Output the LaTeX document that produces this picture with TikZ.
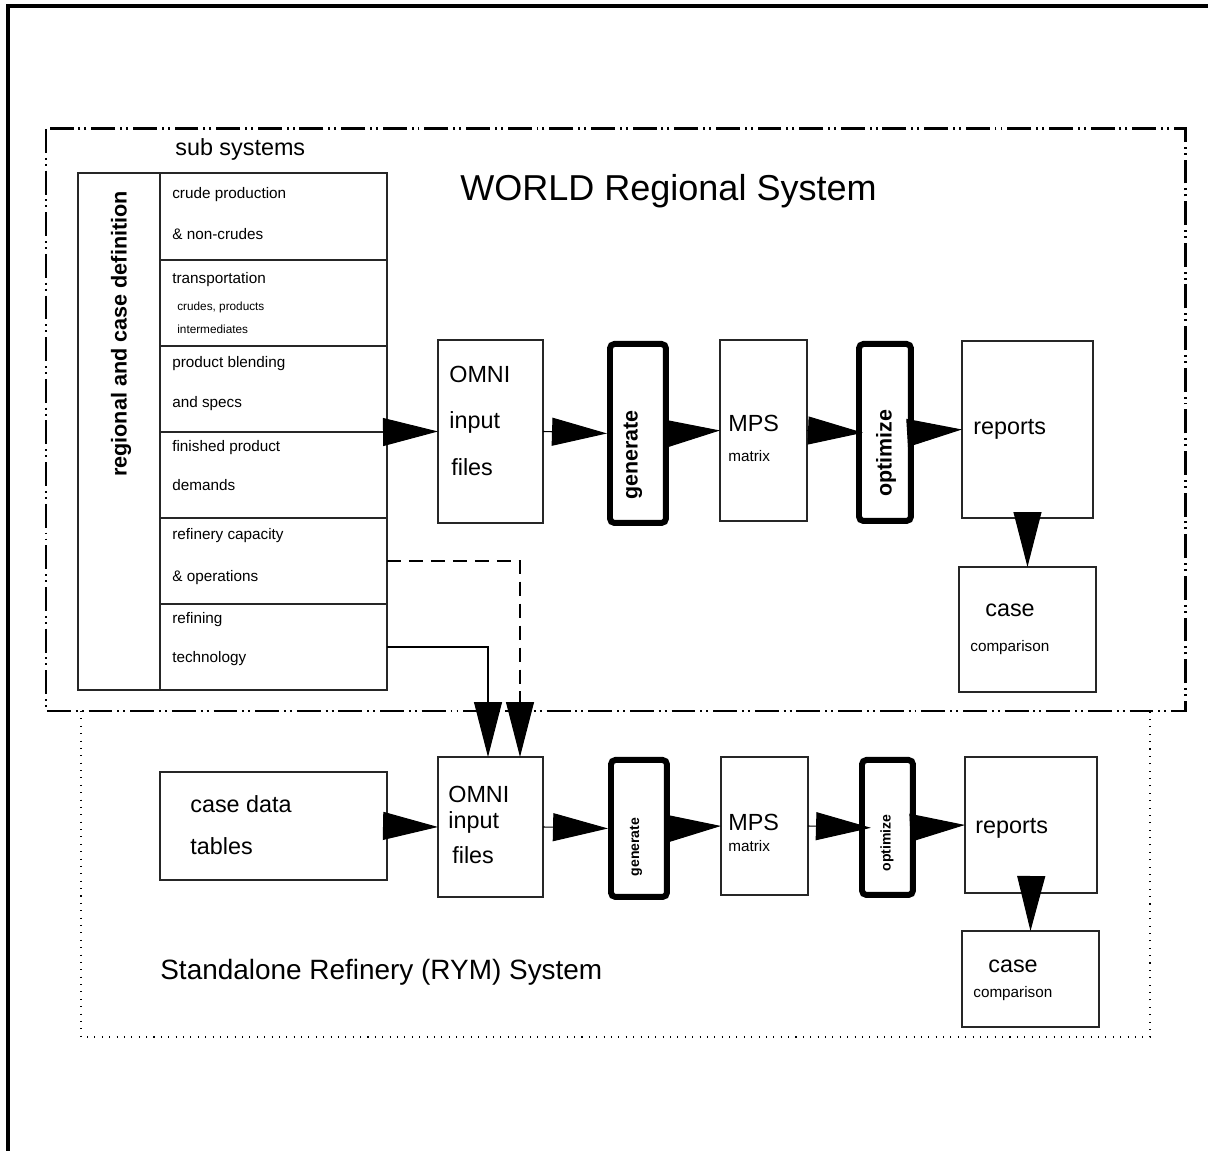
\documentclass[tikz,border=0pt]{standalone}
\usepackage{fontspec}
\setmainfont{Liberation Sans}
\usetikzlibrary{arrows.meta}

% font sizes
\newcommand\worldfs{\fontsize{20.5}{24}\selectfont}
\newcommand\rymfs{\fontsize{15.9}{19}\selectfont}
\newcommand\mainfs{\fontsize{13.3}{16}\selectfont}
\newcommand\regfs{\fontsize{12.3}{15}\selectfont}
\newcommand\procfs{\fontsize{12.2}{15}\selectfont}
\newcommand\subfs{\fontsize{8.7}{10}\selectfont}
\newcommand\smallprocfs{\fontsize{8}{10}\selectfont}
\newcommand\tinyfs{\fontsize{6.7}{8}\selectfont}

\begin{document}
\begin{tikzpicture}[x=0.02cm, y=-0.02cm,
    box/.style={draw=black!85, line width=0.7pt, inner sep=0pt, outer sep=0pt, anchor=north west},
    procbox/.style={draw, line width=3.4pt, rounded corners=2.5pt, inner sep=0pt, anchor=north west},
    txt/.style={inner sep=0pt, anchor=base west},
    bigarrow/.style={-{Triangle[length=1.1cm, width=0.56cm]}, line width=0.6pt},
    worldline/.style={line width=1.7pt, dash pattern=on 13.6pt off 2.8pt on 1.1pt off 2.3pt on 1.1pt off 2.8pt},
    rymline/.style={line width=0.6pt, dash pattern=on 0.6pt off 3.6pt}]
    \useasboundingbox (0,0) rectangle (1208,1151);

    % page frame
    \draw[line width=2pt] (8,1151) -- (8,6) -- (1208,6);

    % system borders
    \draw[rymline] (81,711) -- (81,1037) -- (1150,1037) -- (1150,711);
    \draw[worldline] (46,129) rectangle (1185,711);
    \node[txt, font=\worldfs] (world) at (460,201) {WORLD Regional System};
    \node[txt, font=\rymfs] (rym) at (160,980) {Standalone Refinery (RYM) System};

    % sub systems
    \node[txt, font=\mainfs] (subsys) at (175,156) {sub systems};
    \node[box, minimum width=1.64cm, minimum height=10.34cm] (regdef) at (78,173) {};
    \node[rotate=90, font=\regfs\bfseries] (regtxt) at (121,334) {regional and case definition};
    \node[box, minimum width=4.54cm, minimum height=1.74cm] (crude) at (160,173) {};
    \node[box, minimum width=4.54cm, minimum height=1.72cm] (transp) at (160,260) {};
    \node[box, minimum width=4.54cm, minimum height=1.72cm] (blend) at (160,346) {};
    \node[box, minimum width=4.54cm, minimum height=1.72cm] (demand) at (160,432) {};
    \node[box, minimum width=4.54cm, minimum height=1.72cm] (refcap) at (160,518) {};
    \node[box, minimum width=4.54cm, minimum height=1.72cm] (reftech) at (160,604) {};
    \node[txt, font=\subfs] (crudeA) at (172,199) {crude production};
    \node[txt, font=\subfs] (crudeB) at (172,240) {\& non-crudes};
    \node[txt, font=\subfs] (transpA) at (172,284) {transportation};
    \node[txt, font=\tinyfs] (transpB) at (177,311) {crudes, products};
    \node[txt, font=\tinyfs] (transpC) at (177,334) {intermediates};
    \node[txt, font=\subfs] (blendA) at (172,368) {product blending};
    \node[txt, font=\subfs] (blendB) at (172,408) {and specs};
    \node[txt, font=\subfs] (demandA) at (172,452) {finished product};
    \node[txt, font=\subfs] (demandB) at (172,491) {demands};
    \node[txt, font=\subfs] (refcapA) at (172,540) {refinery capacity};
    \node[txt, font=\subfs] (refcapB) at (172,582) {\& operations};
    \node[txt, font=\subfs] (reftechA) at (172,624) {refining};
    \node[txt, font=\subfs] (reftechB) at (172,663) {technology};

    % WORLD process chain
    \node[box, minimum width=2.1cm, minimum height=3.66cm] (omniA) at (438,340) {};
    \node[procbox, minimum width=1.12cm, minimum height=3.58cm] (genA) at (607,341) {};
    \node[box, minimum width=1.74cm, minimum height=3.62cm] (mpsA) at (720,340) {};
    \node[procbox, minimum width=1.04cm, minimum height=3.54cm] (optA) at (856,341) {};
    \node[box, minimum width=2.62cm, minimum height=3.54cm] (repA) at (962,341) {};
    \node[box, minimum width=2.74cm, minimum height=2.5cm] (caseA) at (959,567) {};
    \node[txt, font=\mainfs] (omniA1) at (449,383) {OMNI};
    \node[txt, font=\mainfs] (omniA2) at (449,429) {input};
    \node[txt, font=\mainfs] (omniA3) at (451,476) {files};
    \node[rotate=90, font=\procfs\bfseries] (genAtxt) at (633,455) {generate};
    \node[txt, font=\mainfs] (mpsA1) at (728,432) {MPS};
    \node[txt, font=\subfs] (mpsA2) at (728,462) {matrix};
    \node[rotate=90, font=\procfs\bfseries] (optAtxt) at (886,453) {optimize};
    \node[txt, font=\mainfs] (repA1) at (973,435) {reports};
    \node[txt, font=\mainfs] (caseA1) at (985,617) {case};
    \node[txt, font=\subfs] (caseA2) at (970,652) {comparison};

    \draw[bigarrow] (blend.south east) -- (omniA.west);
    \draw[bigarrow] (omniA.east) -- (genA.west);
    \draw[bigarrow] (genA.east) -- (mpsA.west);
    \draw[bigarrow, shorten >=-0.14cm] (mpsA.east) -- (optA.west);
    \draw[bigarrow] (optA.east) -- (repA.west);
    \draw[bigarrow] (repA.south) -- (caseA.north);

    % RYM process chain
    \node[box, minimum width=4.54cm, minimum height=2.16cm] (dataB) at (160,772) {};
    \node[box, minimum width=2.1cm, minimum height=2.8cm] (omniB) at (438,757) {};
    \node[procbox, minimum width=1.12cm, minimum height=2.74cm] (genB) at (608,757) {};
    \node[box, minimum width=1.74cm, minimum height=2.76cm] (mpsB) at (721,757) {};
    \node[procbox, minimum width=1.02cm, minimum height=2.7cm] (optB) at (859,757) {};
    \node[box, minimum width=2.64cm, minimum height=2.72cm] (repB) at (965,757) {};
    \node[box, minimum width=2.74cm, minimum height=1.92cm] (caseB) at (962,931) {};
    \node[txt, font=\mainfs] (dataB1) at (190,813) {case data};
    \node[txt, font=\mainfs] (dataB2) at (190,855) {tables};
    \node[txt, font=\mainfs] (omniB1) at (448,803) {OMNI};
    \node[txt, font=\mainfs] (omniB2) at (448,829) {input};
    \node[txt, font=\mainfs] (omniB3) at (452,864) {files};
    \node[rotate=90, font=\smallprocfs\bfseries] (genBtxt) at (636,847) {generate};
    \node[txt, font=\mainfs] (mpsB1) at (728,831) {MPS};
    \node[txt, font=\subfs] (mpsB2) at (728,852) {matrix};
    \node[rotate=90, font=\smallprocfs\bfseries] (optBtxt) at (887,843) {optimize};
    \node[txt, font=\mainfs] (repB1) at (975,834) {reports};
    \node[txt, font=\mainfs] (caseB1) at (988,973) {case};
    \node[txt, font=\subfs] (caseB2) at (973,998) {comparison};

    \draw[bigarrow] (dataB.east) -- (omniB.west);
    \draw[bigarrow] (omniB.east) -- (genB.west);
    \draw[bigarrow] (genB.east) -- (mpsB.west);
    \draw[bigarrow, shorten >=-0.24cm] (mpsB.east) -- (optB.west);
    \draw[bigarrow] (optB.east) -- (repB.west);
    \draw[bigarrow] (repB.south) -- (caseB.north);

    % links from the WORLD sub systems into the RYM input files
    \coordinate (inS) at (488,757);
    \coordinate (inD) at (520,757);
    \draw[bigarrow] (reftech.east) -| (inS);
    \draw[bigarrow, dash pattern=on 8pt off 4.5pt] (refcap.east) -| (inD);
\end{tikzpicture}
\end{document}
